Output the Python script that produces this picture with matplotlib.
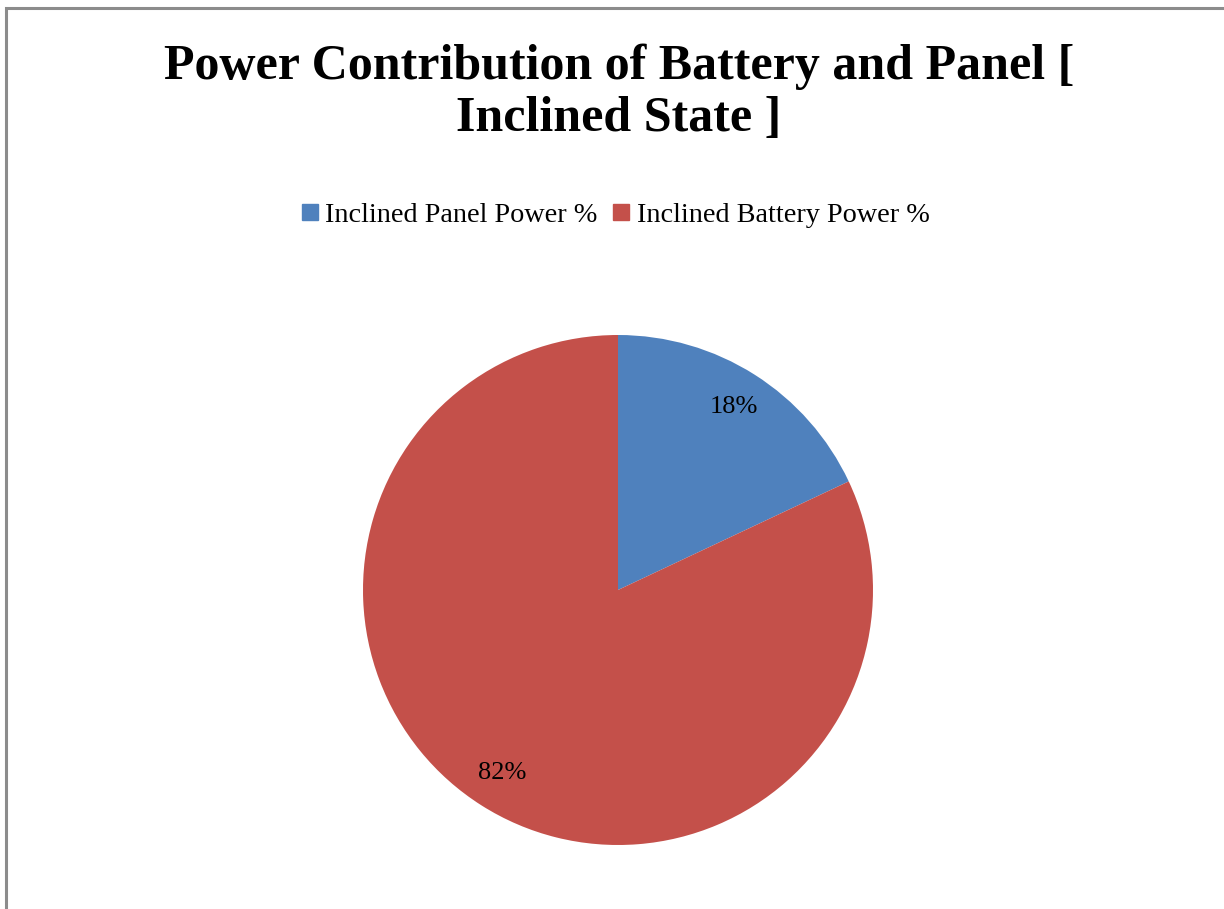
import matplotlib.pyplot as plt
from matplotlib.patches import Rectangle
from matplotlib.lines import Line2D

# share of total power in the inclined state
labels = ['Inclined Panel Power %', 'Inclined Battery Power %']
shares = [18, 82]
colors = ['#4F81BD', '#C4504A']

W, H = 1224, 909
fig = plt.figure(figsize=(W / 100, H / 100), dpi=100)
fig.patch.set_facecolor('white')

# chart frame (only left and top edges fall inside the image)
fig.patches.append(Rectangle((6 / W, -0.1), 1.2, 1.1 - 8 / H, transform=fig.transFigure,
                             fill=False, edgecolor='#8c8c8c', linewidth=2.2, zorder=0))

# pie centre at (618, 590) px, radius 255 px
cx, cy, r = 618, 590, 255
ax = fig.add_axes([(cx - r) / W, (H - cy - r) / H, 2 * r / W, 2 * r / H])
wedges, _, autotexts = ax.pie(shares, colors=colors, startangle=90, counterclock=False,
                              autopct='%d%%', pctdistance=0.85, radius=1,
                              wedgeprops=dict(linewidth=0))
for t in autotexts:
    t.set_fontsize(19)
    t.set_family('Liberation Serif')
    t.set_color('black')
ax.set_xlim(-1, 1)
ax.set_ylim(-1, 1)

fig.text(619 / W, 1 - 93 / H, 'Power Contribution of Battery and Panel [\nInclined State ]',
         ha='center', va='center', fontsize=36, fontweight='bold',
         family='Liberation Serif', linespacing=1.16)

handles = [Line2D([], [], marker='s', linestyle='none', markersize=12,
                  markerfacecolor=c, markeredgecolor=c) for c in colors]
fig.legend(handles, labels, loc='center', bbox_to_anchor=(614 / W, 1 - 215 / H),
           ncol=2, frameon=False, handletextpad=0.15, columnspacing=0.45,
           handlelength=0.8, prop={'family': 'Liberation Serif', 'size': 20.3})

fig.savefig('out.png', dpi=100)
